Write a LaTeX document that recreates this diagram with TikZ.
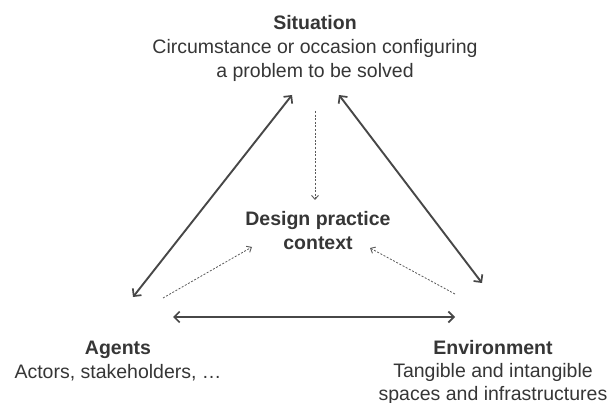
\documentclass[tikz,border=0pt]{standalone}
\usepackage{fontspec}
\setmainfont{Liberation Sans}
\usetikzlibrary{arrows.meta}
\definecolor{txt}{HTML}{363636}
\definecolor{solidc}{HTML}{474747}
\definecolor{dashc}{HTML}{5A5A5A}
\tikzset{
  lbl/.style={align=center, inner sep=0pt, anchor=north, text=txt,
    font=\fontsize{19.5}{24}\selectfont},
  both/.style={draw=solidc, line width=1.9pt,
    {Straight Barb[length=5.5pt,width=11pt,line width=1.7pt]}-{Straight Barb[length=5.5pt,width=11pt,line width=1.7pt]}},
  infl/.style={draw=dashc, line width=0.8pt, dash pattern=on 2pt off 1.6pt,
    -{Straight Barb[length=4pt,width=7pt,line width=0.9pt]}}
}
\begin{document}
\begin{tikzpicture}[x=1pt,y=-1pt]
\useasboundingbox (0,0) rectangle (610,403);
\fill[white] (0,0) rectangle (610,403);
\node[lbl] (sit) at (315,15.5) {\textbf{Situation}\\Circumstance or occasion configuring\\a problem to be solved};
\node[lbl] (dpc) at (318,211.5) {\textbf{Design practice}\\\textbf{context}};
\node[lbl] (ag) at (118,340.5) {\textbf{Agents}\\Actors, stakeholders, \dots};
\node[lbl, font=\fontsize{19.5}{23}\selectfont] (env) at (493,340) {\textbf{Environment}\\Tangible and intangible\\spaces and infrastructures};
\coordinate (sitL) at (292,95);
\coordinate (sitR) at (339,95);
\coordinate (sitB) at (315,111);
\coordinate (agT) at (133,297);
\coordinate (agD) at (163,298);
\coordinate (agR) at (173,317);
\coordinate (envT) at (482,283);
\coordinate (envD) at (455,294);
\coordinate (envL) at (455,317);
\coordinate (dpcT) at (315,200);
\coordinate (dpcL) at (252,247);
\coordinate (dpcR) at (370,248);
\draw[both] (agT) -- (sitL);
\draw[both] (sitR) -- (envT);
\draw[both] (agR) -- (envL);
\draw[infl] (sitB) -- (dpcT);
\draw[infl] (agD) -- (dpcL);
\draw[infl] (envD) -- (dpcR);
\end{tikzpicture}
\end{document}
